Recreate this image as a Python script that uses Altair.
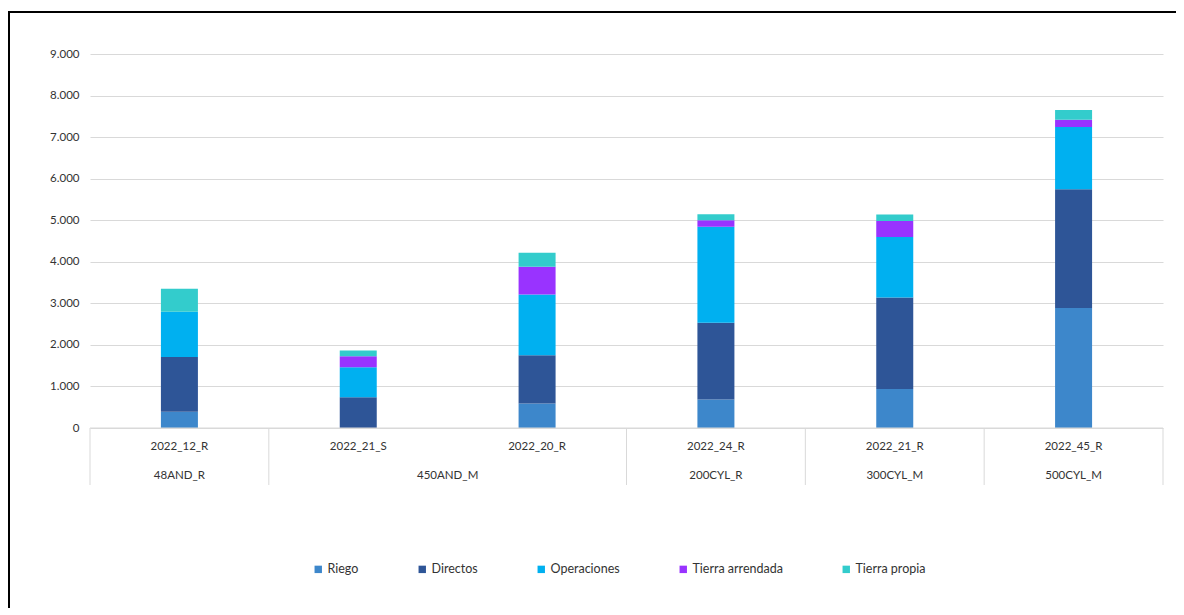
import altair as alt
import pandas as pd

categories = ["2022_12_R", "2022_21_S", "2022_20_R", "2022_24_R", "2022_21_R", "2022_45_R"]
groups_of_cat = ["48AND_R", "450AND_M", "450AND_M", "200CYL_R", "300CYL_M", "500CYL_M"]
series = ["Riego", "Directos", "Operaciones", "Tierra arrendada", "Tierra propia"]
colors = ["#3D87CB", "#2E5597", "#00B0F0", "#9933FF", "#33CCCC"]

riego = [390, 0, 590, 685, 940, 2890]
directos = [1320, 740, 1160, 1845, 2200, 2855]
operaciones = [1090, 720, 1465, 2315, 1455, 1500]
tierra_arrendada = [0, 265, 665, 155, 385, 170]
tierra_propia = [550, 140, 340, 145, 160, 235]

group_names = ["48AND_R", "450AND_M", "200CYL_R", "300CYL_M", "500CYL_M"]
group_centers = [0, 1.5, 3, 4, 5]
separators = [-0.5, 0.5, 2.5, 3.5, 4.5, 5.5]

values = [riego, directos, operaciones, tierra_arrendada, tierra_propia]
rows = []
for si, s in enumerate(series):
    for ci, c in enumerate(categories):
        rows.append({"idx": ci, "cat": c, "serie": s, "ord": si, "value": values[si][ci]})
df = pd.DataFrame(rows)
cat_df = pd.DataFrame({"idx": list(range(len(categories))), "cat": categories})
grp_df = pd.DataFrame({"center": group_centers, "grp": group_names})
sep_df = pd.DataFrame({"x": separators})
base_df = pd.DataFrame({"x": [-0.5], "x2": [5.5], "y": [0]})

W, H = 1073, 374
font = "Lato"
txt = "#333333"
fs = 11.5

xscale = alt.Scale(domain=[-0.5, 5.5], nice=False, zero=False, padding=0)

bars = alt.Chart(df).mark_bar(size=37).encode(
    x=alt.X("idx:Q", scale=xscale, axis=None),
    y=alt.Y("sum(value):Q", scale=alt.Scale(domain=[0, 9000], nice=False),
            axis=alt.Axis(values=list(range(0, 9001, 1000)), title=None,
                          labelExpr="replace(format(datum.value, ','), ',', '.')",
                          domain=False, ticks=False, grid=True, gridColor="#D9D9D9",
                          labelFont=font, labelFontSize=fs, labelColor=txt, labelPadding=11)),
    color=alt.Color("serie:N", scale=alt.Scale(domain=series, range=colors),
                    legend=alt.Legend(orient="none", legendX=222, legendY=509, direction="horizontal",
                                      columns=5, columnPadding=57, title=None, symbolType="square",
                                      symbolSize=55, symbolStrokeWidth=0, labelFont=font,
                                      labelFontSize=12.5, labelColor=txt, labelOffset=3)),
    order=alt.Order("ord:Q", sort="ascending"),
)

baseline = alt.Chart(base_df).mark_rule(color="#D9D9D9", strokeWidth=1).encode(
    x=alt.X("x:Q", scale=xscale), x2="x2:Q", y=alt.Y("y:Q")
)

seps = alt.Chart(sep_df).mark_rule(color="#D9D9D9", strokeWidth=1).encode(
    x=alt.X("x:Q", scale=xscale), y=alt.value(H), y2=alt.value(H + 57)
)

cat_text = alt.Chart(cat_df).mark_text(font=font, fontSize=fs, color=txt, baseline="middle").encode(
    x=alt.X("idx:Q", scale=xscale), y=alt.value(H + 19), text="cat:N"
)

grp_text = alt.Chart(grp_df).mark_text(font=font, fontSize=fs, color=txt, baseline="middle").encode(
    x=alt.X("center:Q", scale=xscale), y=alt.value(H + 48), text="grp:N"
)

frame = alt.Chart(base_df).mark_rect(fill=None, stroke="#000000", strokeWidth=2).encode(
    x=alt.value(-81), x2=alt.value(1110), y=alt.value(-42), y2=alt.value(600)
)

chart = alt.layer(frame, bars, baseline, seps, cat_text, grp_text).properties(
    width=W, height=H,
    autosize=alt.AutoSizeParams(type="none"),
    padding={"left": 82, "top": 46, "right": 13, "bottom": 180},
).configure(background="white", view=alt.ViewConfig(stroke=None))

chart.save("out.html", embed_options={"renderer": "svg", "actions": False})
